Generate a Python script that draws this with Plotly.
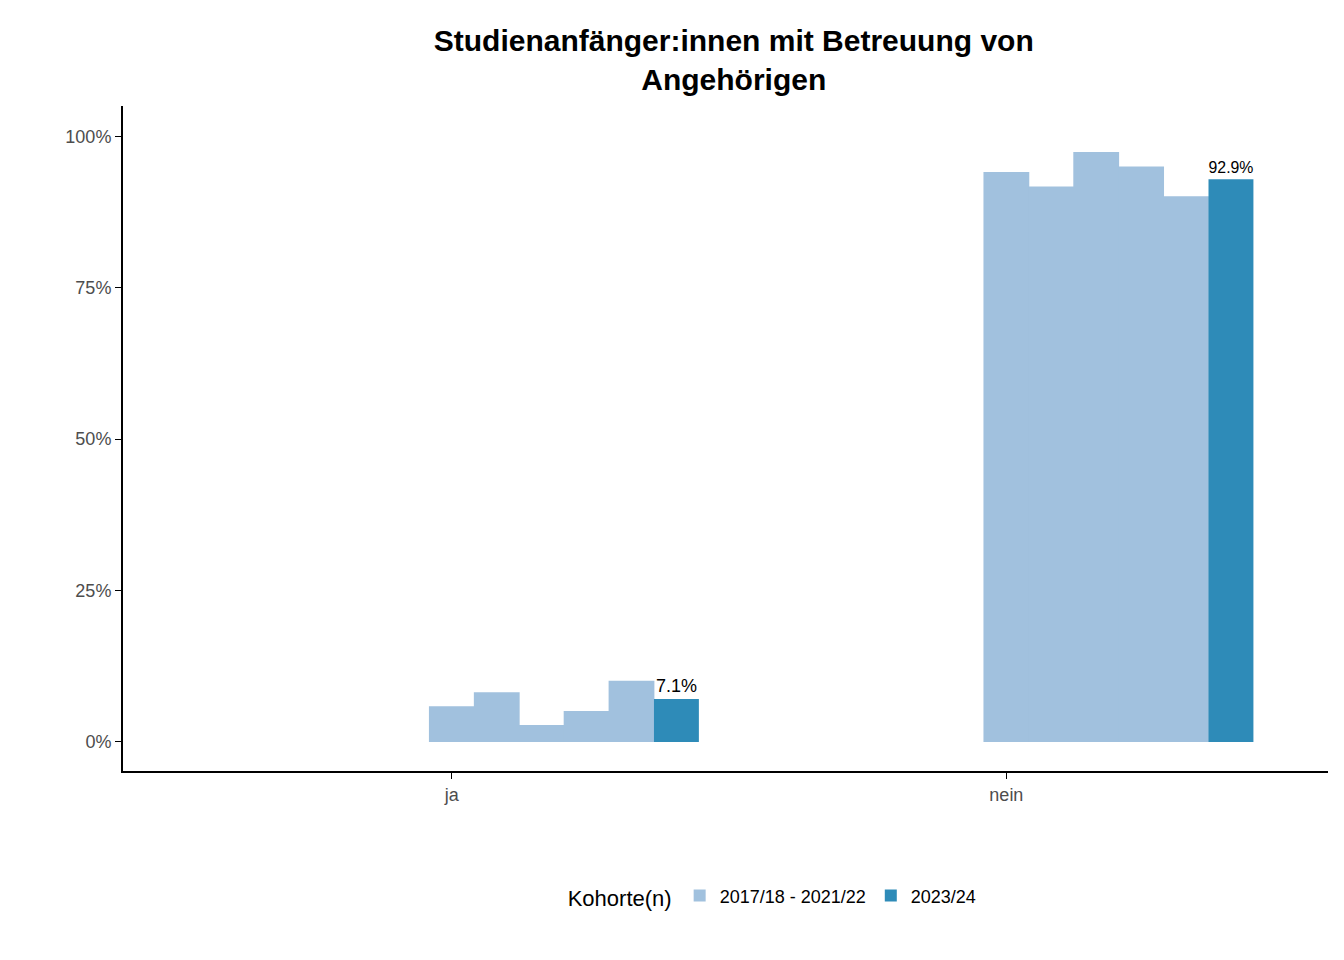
import plotly.graph_objects as go

kategorien = ["ja", "nein"]
alt_ja = [5.9, 8.2, 2.8, 5.1, 10.1]
alt_nein = [94.1, 91.7, 97.4, 95.0, 90.1]
neu = [7.1, 92.9]

w = 0.081
x_alt, y_alt = [], []
for i, werte in enumerate([alt_ja, alt_nein]):
    for k, v in enumerate(werte):
        x_alt.append(i + 1 + k * w)
        y_alt.append(v)
x_neu = [i + 1 + 5 * w for i in range(2)]

fig = go.Figure()
fig.add_trace(go.Bar(x=x_alt, y=y_alt, width=w * 1.02, name="2017/18 - 2021/22",
                     marker=dict(color="#a1c1de", line_width=0)))
fig.add_trace(go.Bar(x=x_neu, y=neu, width=w, name="2023/24",
                     marker=dict(color="#2e8bb8", line_width=0),
                     text=[f"{v}%" for v in neu], textposition="outside",
                     textfont=dict(size=18, color="black"), cliponaxis=False))
fig.update_layout(
    width=1344, height=960, plot_bgcolor="white", paper_bgcolor="white",
    font=dict(family="Liberation Sans, Arial", size=18, color="#4d4d4d"),
    title=dict(text="<b>Studienanfänger:innen mit Betreuung von<br>Angehörigen</b>",
               x=0.54, xanchor="center", y=0.955, yanchor="middle",
               font=dict(size=30, color="black")),
    margin=dict(l=115, r=24, t=98, b=197),
    barmode="overlay", showlegend=True,
    legend=dict(orientation="h", x=0.54, xanchor="center", y=-0.16, yanchor="top",
                title=dict(text="Kohorte(n)", font=dict(size=22, color="black")),
                font=dict(size=18, color="black")),
)
fig.update_xaxes(range=[0.407, 2.58], tickvals=[1, 2], ticktext=kategorien,
                 showline=True, linecolor="black", linewidth=2, showgrid=False,
                 zeroline=False, ticks="outside", ticklen=6, tickcolor="black")
fig.update_yaxes(range=[-4.8, 105], tickvals=[0, 25, 50, 75, 100],
                 ticktext=["0%", "25%", "50%", "75%", "100%"],
                 showline=True, linecolor="black", linewidth=2, showgrid=False,
                 zeroline=False, ticks="outside", ticklen=6, tickcolor="black")
fig.write_html("out.html")
